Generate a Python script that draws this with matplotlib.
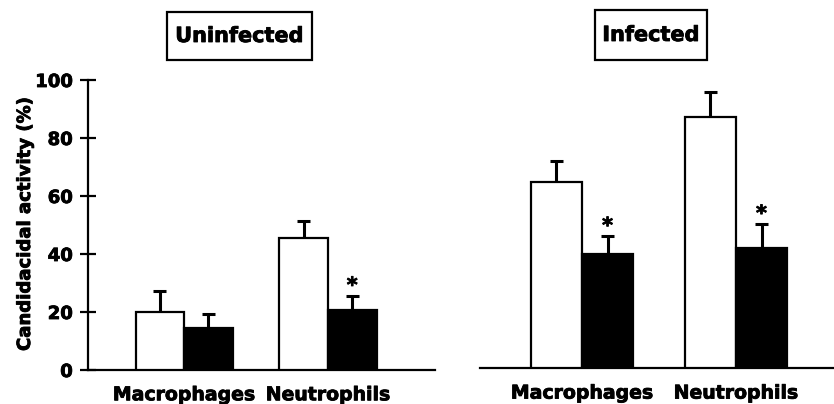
import matplotlib
matplotlib.use("Agg")
import matplotlib.pyplot as plt
from matplotlib.patches import Rectangle
import matplotlib.patheffects as pe
import numpy as np

plt.rcParams['font.family'] = ['DejaVu Sans']
plt.rcParams['font.weight'] = 'bold'

categories = ["Macrophages", "Neutrophils"]
panels = ["Uninfected", "Infected"]
# [control (white), treated (black)]
uninf_white = [20.1, 45.6]
uninf_white_err = [7.1, 5.9]
uninf_black = [14.4, 20.7]
uninf_black_err = [4.9, 4.9]
uninf_sig = [False, True]

inf_white = [64.3, 86.8]
inf_white_err = [7.2, 8.6]
inf_black = [39.4, 41.6]
inf_black_err = [6.2, 8.2]
inf_sig = [True, True]

yticks = [0, 20, 40, 60, 80, 100]
ylabel = "Candidacidal activity (%)"

W, H = 834, 404
fig = plt.figure(figsize=(W / 100, H / 100), dpi=100)
heavy = [pe.withStroke(linewidth=0.6, foreground='black')]

def fx(px):
    return px / W

def fy(py):
    return 1 - py / H

ax1 = fig.add_axes([fx(88), fy(370), fx(435 - 88), (370 - 80) / H])
ax2 = fig.add_axes([fx(480), fy(368.3), fx(834 - 480), (368.3 - 78.3) / H])

def draw(ax, white, werr, black, berr, sig, bw, xlim):
    x = np.arange(len(categories))
    xw = x - bw / 2
    xb = x + bw / 2
    ax.bar(xw, white, bw, color='white', edgecolor='black', linewidth=1.6, zorder=3)
    ax.bar(xb, black, bw, color='black', edgecolor='black', linewidth=1.6, zorder=3)
    for xs, vals, errs in ((xw, white, werr), (xb, black, berr)):
        for xi, v, e in zip(xs, vals, errs):
            ax.plot([xi, xi], [v, v + e], color='black', lw=2.2, zorder=2,
                    solid_capstyle='butt')
            ax.plot([xi - bw * 0.13, xi + bw * 0.13], [v + e, v + e], color='black',
                    lw=2.2, zorder=2, solid_capstyle='butt')
    for xi, v, e, s in zip(xb, black, berr, sig):
        if s:
            t = ax.annotate("*", (xi, v + e), xytext=(0, 0), textcoords='offset points',
                            ha='center', va='bottom', fontsize=15, fontweight='bold')
            t.set_path_effects(heavy)
    ax.set_xlim(*xlim)
    ax.set_ylim(0, 100)
    ax.set_xticks(x)
    ax.set_xticklabels(categories, fontsize=13.6, fontweight='bold')
    for lab in ax.get_xticklabels():
        lab.set_path_effects(heavy)
    ax.tick_params(axis='x', length=0, pad=11)
    for s in ('top', 'right'):
        ax.spines[s].set_visible(False)
    ax.spines['bottom'].set_linewidth(1.6)

draw(ax1, uninf_white, uninf_white_err, uninf_black, uninf_black_err, uninf_sig,
     0.337, (-0.667, 1.743))
draw(ax2, inf_white, inf_white_err, inf_black, inf_black_err, inf_sig,
     0.332, (-0.663, 1.637))

ax1.set_yticks(yticks)
ax1.set_yticklabels([str(t) for t in yticks], fontsize=13, fontweight='bold')
for lab in ax1.get_yticklabels():
    lab.set_path_effects(heavy)
ax1.tick_params(axis='y', direction='inout', length=12, width=1.6, pad=5)
ax1.spines['left'].set_linewidth(1.6)
yl = ax1.set_ylabel(ylabel, fontsize=13, fontweight='bold')
yl.set_path_effects(heavy)
ax1.yaxis.set_label_coords(-54 / 347, 0.5)

ax2.spines['left'].set_visible(False)
ax2.set_yticks([])

# Panel titles in boxes
for title, cx, box in ((panels[0], 239.5, (167, 12, 312, 60)),
                       (panels[1], 651, (595, 10, 707, 60))):
    t = fig.text(fx(cx), fy((box[1] + box[3]) / 2), title, ha='center', va='center',
                 fontsize=15, fontweight='bold')
    t.set_path_effects(heavy)
    fig.patches.append(Rectangle((fx(box[0]), fy(box[3])), fx(box[2] - box[0]),
                                 (box[3] - box[1]) / H, transform=fig.transFigure,
                                 fill=False, edgecolor='black', linewidth=1.6))

fig.savefig("out.png", dpi=100)
